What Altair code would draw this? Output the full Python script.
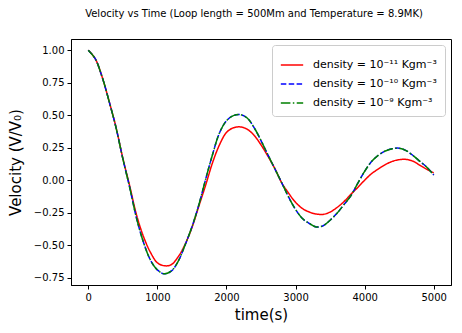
import altair as alt
import pandas as pd

time_s = list(range(0, 5001, 100))

# density = 1e-11
v_red = [1.000, 0.935, 0.795, 0.610, 0.410, 0.170, -0.045, -0.270, -0.435, -0.555,
         -0.635, -0.658, -0.650, -0.590, -0.495, -0.365, -0.200, -0.036, 0.137, 0.273,
         0.367, 0.403, 0.410, 0.392, 0.345, 0.272, 0.185, 0.090, -0.020, -0.100,
         -0.170, -0.218, -0.245, -0.260, -0.263, -0.245, -0.210, -0.165, -0.109, -0.056,
         0.000, 0.050, 0.087, 0.120, 0.145, 0.158, 0.160, 0.146, 0.115, 0.084, 0.057]

# density = 1e-10
v_blue = [1.000, 0.935, 0.795, 0.610, 0.408, 0.166, -0.057, -0.296, -0.479, -0.614,
          -0.690, -0.720, -0.700, -0.625, -0.500, -0.360, -0.190, 0.010, 0.200, 0.365,
          0.457, 0.497, 0.505, 0.478, 0.405, 0.305, 0.195, 0.088, -0.020, -0.130,
          -0.225, -0.295, -0.333, -0.360, -0.350, -0.308, -0.255, -0.188, -0.120, -0.025,
          0.068, 0.143, 0.193, 0.225, 0.242, 0.246, 0.228, 0.190, 0.145, 0.100, 0.040]

# density = 1e-9
v_green = [1.000, 0.935, 0.795, 0.610, 0.408, 0.166, -0.057, -0.296, -0.479, -0.614,
           -0.690, -0.720, -0.700, -0.625, -0.500, -0.360, -0.190, 0.010, 0.200, 0.365,
           0.457, 0.497, 0.505, 0.478, 0.405, 0.305, 0.195, 0.088, -0.020, -0.130,
           -0.225, -0.295, -0.333, -0.360, -0.350, -0.308, -0.255, -0.188, -0.120, -0.025,
           0.068, 0.143, 0.193, 0.225, 0.242, 0.246, 0.228, 0.190, 0.145, 0.100, 0.040]

labels = ["density = 10⁻¹¹ Kgm⁻³", "density = 10⁻¹⁰ Kgm⁻³", "density = 10⁻⁹ Kgm⁻³"]
colors = ["#ff0000", "#0000ff", "#008000"]
dashes = [[1, 0], [5.5, 2.4], [9.6, 2.4, 1.5, 2.4]]

x_ticks = [0, 1000, 2000, 3000, 4000, 5000]
y_ticks = [-0.75, -0.5, -0.25, 0.0, 0.25, 0.5, 0.75, 1.0]

rows = []
for k, (lab, vals) in enumerate(zip(labels, [v_red, v_blue, v_green])):
    for t, v in zip(time_s, vals):
        rows.append({"time": t, "velocity": v, "series": lab, "k": k})
df = pd.DataFrame(rows)

FONT = "DejaVu Sans"

leg = alt.Legend(
    title=None, orient="top-right", offset=6, padding=8,
    fillColor="white", strokeColor="#cccccc", cornerRadius=3,
    labelFont=FONT, labelFontSize=11, labelColor="black",
    symbolType="stroke", symbolSize=500, symbolStrokeWidth=1.5,
    labelOffset=9, rowPadding=2,
)

chart = alt.Chart(df).mark_line(strokeWidth=1.5, interpolate="catmull-rom", clip=True).encode(
    x=alt.X("time:Q",
            scale=alt.Scale(domain=[-250, 5250], nice=False, zero=False),
            axis=alt.Axis(values=x_ticks, format="d", title="time(s)", titlePadding=5)),
    y=alt.Y("velocity:Q",
            scale=alt.Scale(domain=[-0.806, 1.086], nice=False, zero=False),
            axis=alt.Axis(values=y_ticks, format=".2f", title="Velocity (V/V₀)", titlePadding=10)),
    color=alt.Color("series:N", scale=alt.Scale(domain=labels, range=colors), legend=leg),
    strokeDash=alt.StrokeDash("series:N", scale=alt.Scale(domain=labels, range=dashes), legend=leg),
    detail="k:O",
).properties(
    width=380, height=246,
    title=alt.TitleParams(
        "Velocity vs Time (Loop length = 500Mm and Temperature = 8.9MK)",
        font=FONT, fontSize=10, fontWeight="normal", color="black",
        anchor="middle", offset=20, dx=-7,
    ),
    padding={"left": 63, "top": 31, "right": 3, "bottom": 44},
    autosize=alt.AutoSizeParams(type="none"),
).configure_view(
    stroke="black", strokeWidth=1
).configure_axis(
    grid=False, domainColor="black", domainWidth=1,
    tickColor="black", tickSize=4, tickWidth=1,
    labelFont=FONT, labelFontSize=10, labelColor="black", labelPadding=3,
    titleFont=FONT, titleFontSize=15, titleFontWeight="normal", titleColor="black",
)

chart.save("out.html", embed_options={"renderer": "svg", "actions": False})
